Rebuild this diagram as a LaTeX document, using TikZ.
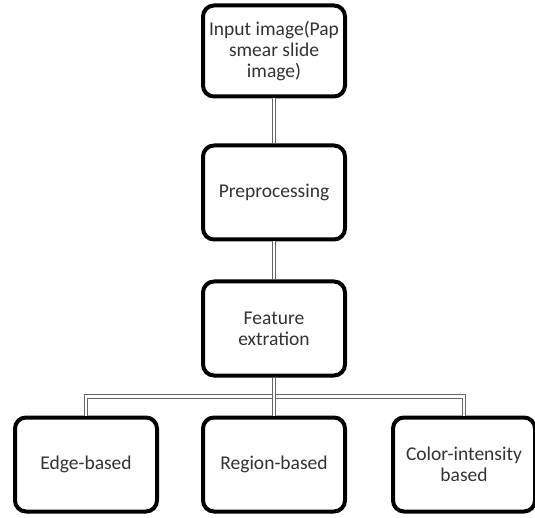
\documentclass[tikz,border=0pt]{standalone}
\usepackage{fontspec}
\setmainfont{Carlito}
\usetikzlibrary{positioning,calc}

\tikzset{
	blockbox/.style={draw=black, line width=4pt, rounded corners=11pt, fill=white,
		minimum width=142pt, minimum height=94pt, align=center,
		font=\fontsize{19.5}{21}\selectfont, text=black!80},
	link/.style={draw=black!60, line width=1pt, double=white, double distance=2.2pt}
}

\begin{document}
\begin{tikzpicture}[x=1pt, y=-1pt]
		\useasboundingbox (0,0) rectangle (535,518);
		\node [blockbox, minimum height=91pt] (input) at (274,51) {Input image(Pap\\smear slide\\image)};
		\node [blockbox, below=45pt of input] (prep) {Preprocessing};
		\node [blockbox, below=38pt of prep] (feat) {Feature\\extration};
		\node [blockbox, below=38pt of feat] (region) {Region-based};
		\node [blockbox, left=42pt of region] (edge) {Edge-based};
		\node [blockbox, right=44pt of region] (color) {Color-intensity\\based};
		\coordinate (split) at ($(feat.south)!0.5!(region.north)$);

		\draw [link] (input.south) -- (prep.north);
		\draw [link] (prep.south) -- (feat.north);
		\draw [link] (edge.north) |- (split) -| (color.north);
		\draw [link] (feat.south) -- (region.north);
	\end{tikzpicture}
\end{document}
